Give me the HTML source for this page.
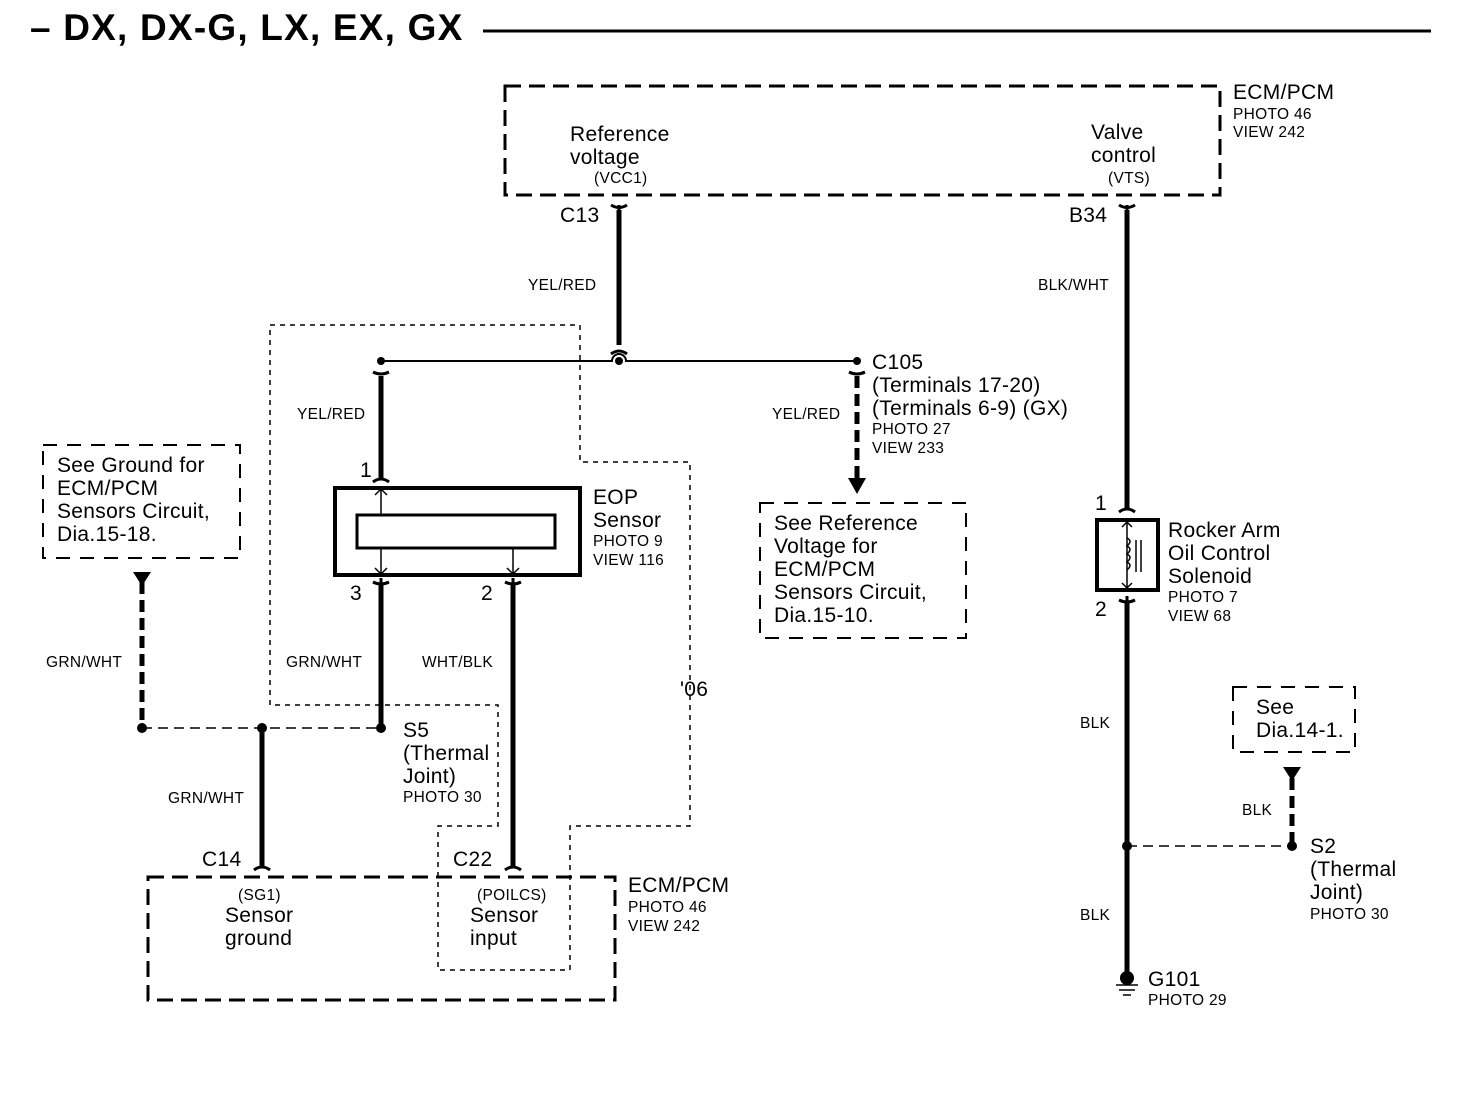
<!DOCTYPE html>
<html><head><style>
body{margin:0;background:#fff}
svg{display:block}
text{font-family:"Liberation Sans",sans-serif;fill:#000}
.l{font-size:21px;letter-spacing:0.3px}.s{font-size:15.5px;letter-spacing:0.3px}
</style></head><body>
<svg width="1472" height="1108" viewBox="0 0 1472 1108">
<text x="30" y="40" font-size="37" font-weight="bold" letter-spacing="1.2">– DX, DX-G, LX, EX, GX</text>
<line x1="483" y1="31" x2="1431" y2="31" stroke="#000" stroke-width="3"/>
<g fill="none" stroke="#000">
<rect x="505" y="86" width="715" height="109" stroke-width="3" stroke-dasharray="16,8"/>
<rect x="148" y="877" width="467" height="123" stroke-width="3" stroke-dasharray="16,8"/>
<rect x="43" y="445" width="197" height="113" stroke-width="2" stroke-dasharray="14,10"/>
<rect x="760" y="503" width="206" height="135" stroke-width="2" stroke-dasharray="14,10"/>
<rect x="1233" y="687" width="122" height="65" stroke-width="2" stroke-dasharray="14,10"/>
<polyline points="270,325 580,325 580,462 690,462 690,826 570,826 570,970 438,970 438,826 498,826 498,705 270,705 270,325" stroke-width="1.5" stroke-dasharray="5,5"/>
<g stroke-width="5">
<line x1="619" y1="210" x2="619" y2="345"/>
<line x1="381" y1="376" x2="381" y2="478"/>
<line x1="381" y1="585" x2="381" y2="728"/>
<line x1="513" y1="585" x2="513" y2="866"/>
<line x1="262" y1="728" x2="262" y2="866"/>
<line x1="1127" y1="210" x2="1127" y2="508"/>
<line x1="1127" y1="602" x2="1127" y2="975"/>
</g>
<g stroke-width="5" stroke-dasharray="12,6">
<line x1="857" y1="376" x2="857" y2="480"/>
<line x1="142" y1="582" x2="142" y2="728"/>
<line x1="1292" y1="778" x2="1292" y2="846"/>
</g>
<path d="M381,361 H612 A7,7 0 0 1 626,361 H857" stroke-width="2"/>
<line x1="142" y1="728" x2="381" y2="728" stroke-width="1.5" stroke-dasharray="10,6"/>
<line x1="1127" y1="846" x2="1292" y2="846" stroke-width="1.5" stroke-dasharray="10,6"/>
<g stroke-width="3">
<path d="M611,205 Q619,210 627,205 M619,205 V215"/>
<path d="M1119,205 Q1127,210 1135,205 M1127,205 V215"/>
<path d="M611,354 Q619,348 627,354"/>
<path d="M373,372 Q381,376 389,372"/>
<path d="M849,372 Q857,376 865,372"/>
<path d="M373,482 Q381,476 389,482"/>
<path d="M1119,512 Q1127,506 1135,512"/>
<path d="M373,582 Q381,586 389,582 M381,578 V590"/>
<path d="M505,582 Q513,586 521,582 M513,578 V590"/>
<path d="M1119,600 Q1127,604 1135,600 M1127,596 V608"/>
<path d="M254,870 Q262,864 270,870"/>
<path d="M505,870 Q513,864 521,870"/>
</g>
<rect x="335" y="488" width="245" height="87" stroke-width="4"/>
<rect x="357" y="515" width="198" height="33" stroke-width="3"/>
<g stroke-width="1.5">
<path d="M381,515 V489 M375,495 L381,489 L387,495"/>
<path d="M381,548 V574 M375,568 L381,574 L387,568"/>
<path d="M513,548 V574 M507,568 L513,574 L519,568"/>
</g>
<rect x="1097" y="520" width="61" height="70" stroke-width="4"/>
<g stroke-width="1.5">
<path d="M1127,522 V588 M1122,527 L1127,522 L1132,527 M1122,583 L1127,588 L1132,583"/>
<path d="M1127,538 q6,3 0,8 q6,3 0,8 q6,3 0,8 q6,3 0,8"/>
<path d="M1136,540 V572 M1141,540 V572"/>
</g>
<path d="M1116,985 H1138 M1119,990 H1135 M1123,995 H1131" stroke-width="1.5"/>
</g>
<g fill="#000">
<circle cx="381" cy="361" r="4"/><circle cx="619" cy="361" r="4"/><circle cx="857" cy="361" r="4"/>
<circle cx="142" cy="728" r="5"/><circle cx="262" cy="728" r="5"/><circle cx="381" cy="728" r="5"/>
<circle cx="1127" cy="846" r="5"/><circle cx="1292" cy="846" r="5"/>
<circle cx="1127" cy="978" r="7"/>
<polygon points="848,478 866,478 857,494"/>
<polygon points="133,572 151,572 142,586"/>
<polygon points="1283,767 1301,767 1292,781"/>
</g>
<text class="l" x="1233" y="99">ECM/PCM</text>
<text class="s" x="1233" y="119">PHOTO 46</text>
<text class="s" x="1233" y="137">VIEW 242</text>
<text class="l" x="570" y="141">Reference</text>
<text class="l" x="570" y="164">voltage</text>
<text class="s" x="594" y="183">(VCC1)</text>
<text class="l" x="1091" y="139">Valve</text>
<text class="l" x="1091" y="162">control</text>
<text class="s" x="1108" y="183">(VTS)</text>
<text class="l" x="560" y="222">C13</text>
<text class="l" x="1069" y="222">B34</text>
<text class="s" x="528" y="290">YEL/RED</text>
<text class="s" x="1038" y="290">BLK/WHT</text>
<text class="s" x="297" y="419">YEL/RED</text>
<text class="s" x="772" y="419">YEL/RED</text>
<text class="l" x="872" y="369">C105</text>
<text class="l" x="872" y="392">(Terminals 17-20)</text>
<text class="l" x="872" y="415">(Terminals 6-9) (GX)</text>
<text class="s" x="872" y="434">PHOTO 27</text>
<text class="s" x="872" y="453">VIEW 233</text>
<text class="l" x="57" y="472">See Ground for</text>
<text class="l" x="57" y="495">ECM/PCM</text>
<text class="l" x="57" y="518">Sensors Circuit,</text>
<text class="l" x="57" y="541">Dia.15-18.</text>
<text class="l" x="360" y="477">1</text>
<text class="l" x="593" y="504">EOP</text>
<text class="l" x="593" y="527">Sensor</text>
<text class="s" x="593" y="546">PHOTO 9</text>
<text class="s" x="593" y="565">VIEW 116</text>
<text class="l" x="774" y="530">See Reference</text>
<text class="l" x="774" y="553">Voltage for</text>
<text class="l" x="774" y="576">ECM/PCM</text>
<text class="l" x="774" y="599">Sensors Circuit,</text>
<text class="l" x="774" y="622">Dia.15-10.</text>
<text class="l" x="1095" y="510">1</text>
<text class="l" x="1168" y="537">Rocker Arm</text>
<text class="l" x="1168" y="560">Oil Control</text>
<text class="l" x="1168" y="583">Solenoid</text>
<text class="s" x="1168" y="602">PHOTO 7</text>
<text class="s" x="1168" y="621">VIEW 68</text>
<text class="l" x="1095" y="616">2</text>
<text class="l" x="350" y="600">3</text>
<text class="l" x="481" y="600">2</text>
<text class="s" x="46" y="667">GRN/WHT</text>
<text class="s" x="286" y="667">GRN/WHT</text>
<text class="s" x="422" y="667">WHT/BLK</text>
<text class="l" x="680" y="696">'06</text>
<text class="l" x="1256" y="714">See</text>
<text class="l" x="1256" y="737">Dia.14-1.</text>
<text class="s" x="1080" y="728">BLK</text>
<text class="s" x="1242" y="815">BLK</text>
<text class="s" x="1080" y="920">BLK</text>
<text class="l" x="403" y="737">S5</text>
<text class="l" x="403" y="760">(Thermal</text>
<text class="l" x="403" y="783">Joint)</text>
<text class="s" x="403" y="802">PHOTO 30</text>
<text class="s" x="168" y="803">GRN/WHT</text>
<text class="l" x="1310" y="853">S2</text>
<text class="l" x="1310" y="876">(Thermal</text>
<text class="l" x="1310" y="899">Joint)</text>
<text class="s" x="1310" y="919">PHOTO 30</text>
<text class="l" x="202" y="866">C14</text>
<text class="l" x="453" y="866">C22</text>
<text class="s" x="238" y="900">(SG1)</text>
<text class="l" x="225" y="922">Sensor</text>
<text class="l" x="225" y="945">ground</text>
<text class="s" x="477" y="900">(POILCS)</text>
<text class="l" x="470" y="922">Sensor</text>
<text class="l" x="470" y="945">input</text>
<text class="l" x="628" y="892">ECM/PCM</text>
<text class="s" x="628" y="912">PHOTO 46</text>
<text class="s" x="628" y="931">VIEW 242</text>
<text class="l" x="1148" y="986">G101</text>
<text class="s" x="1148" y="1005">PHOTO 29</text>
</svg>
</body></html>
